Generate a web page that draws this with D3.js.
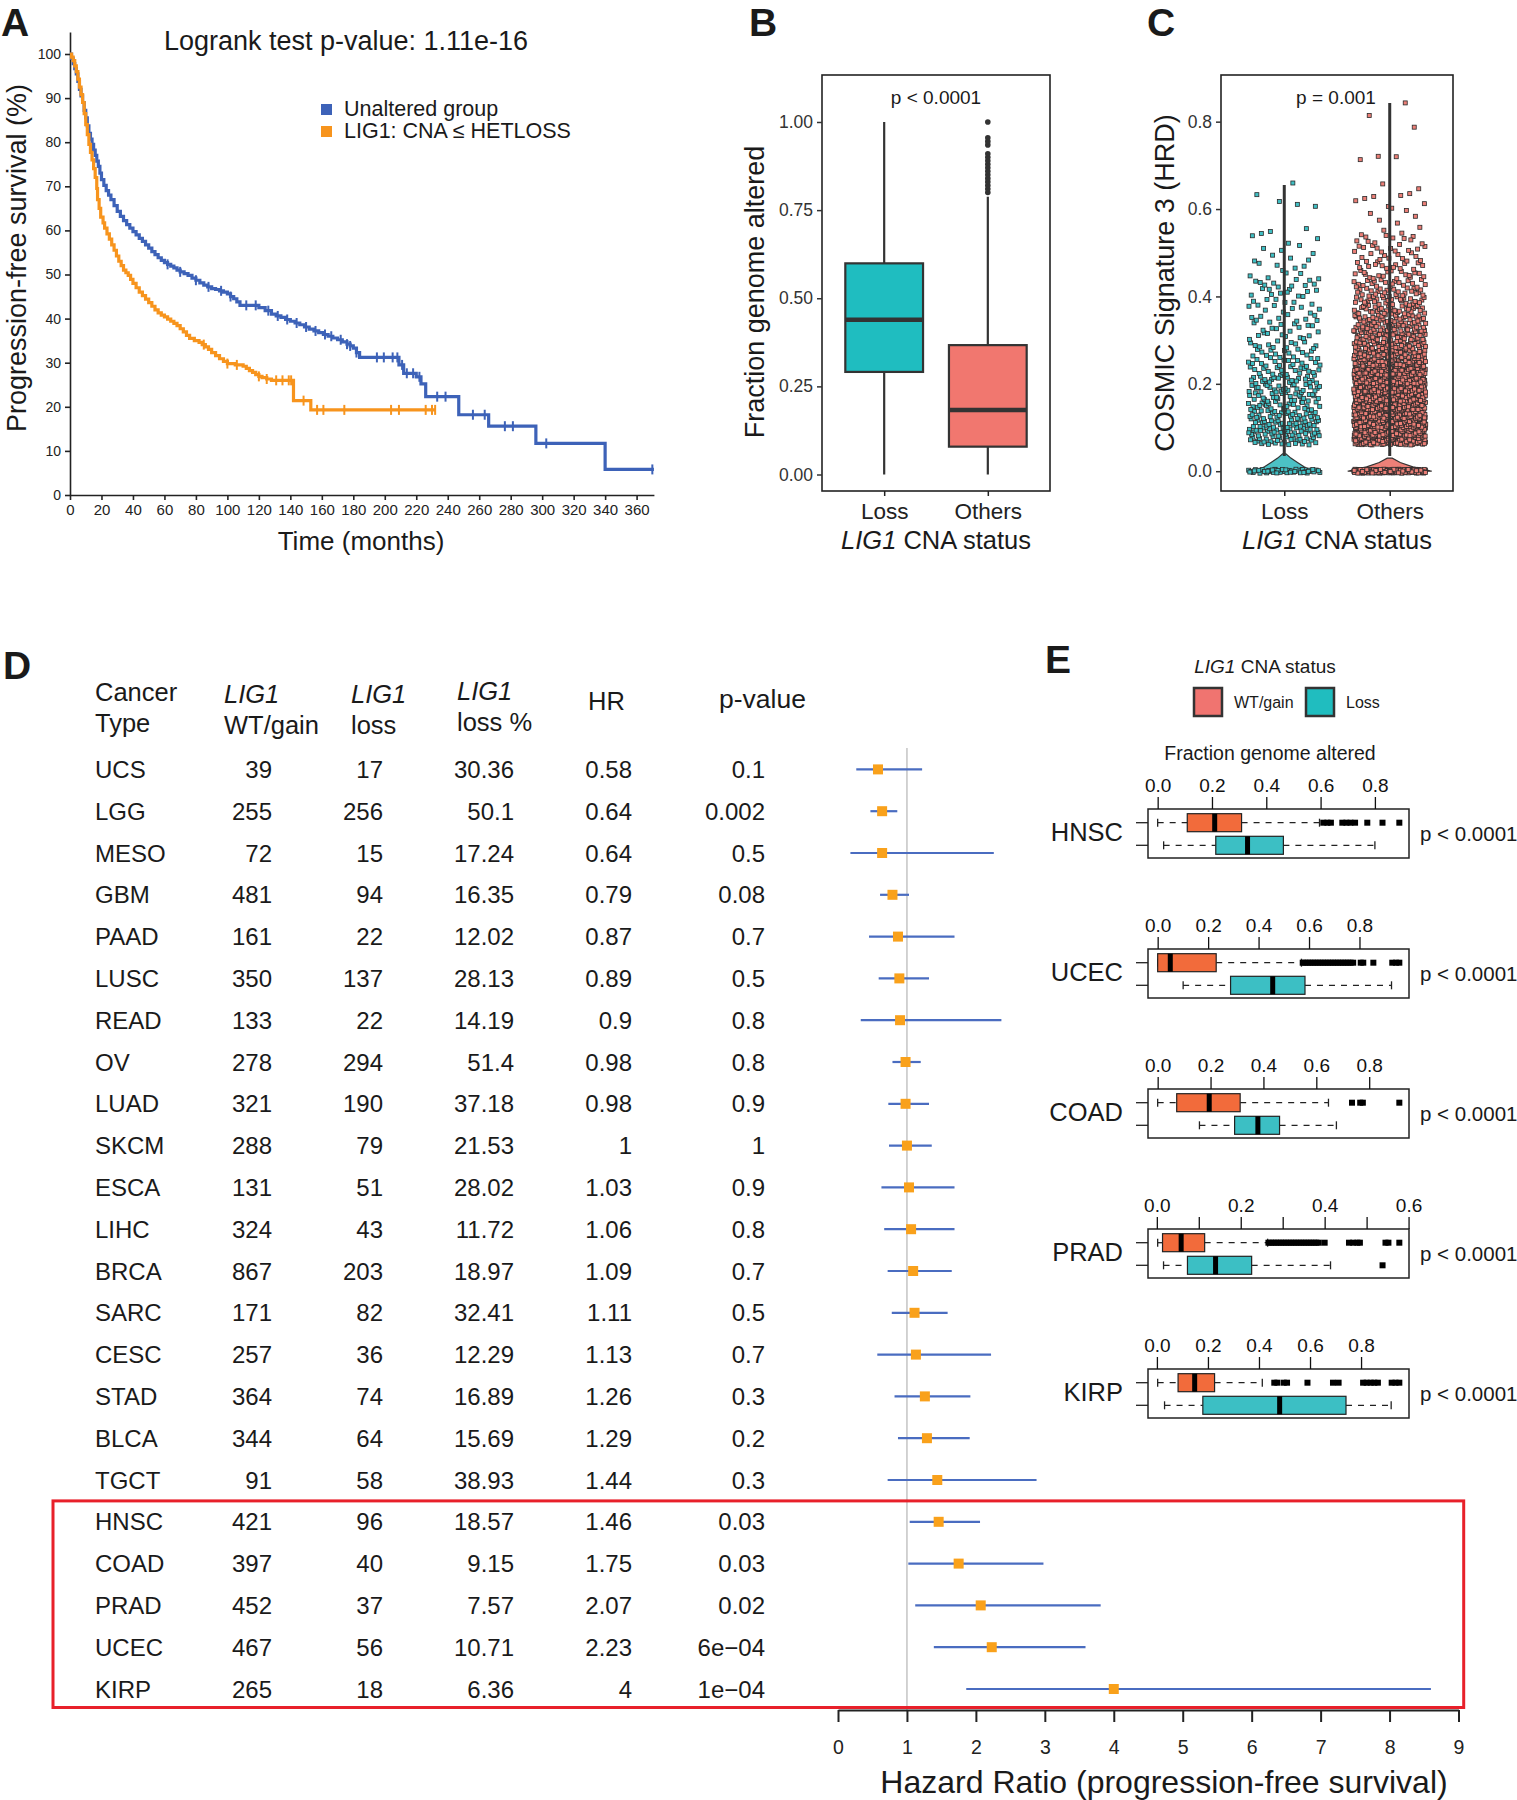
<!DOCTYPE html>
<html><head><meta charset="utf-8">
<script src="https://cdn.jsdelivr.net/npm/d3@7"></script>
<style>
body{margin:0;background:#fff}
svg{display:block}
text{font-family:"Liberation Sans",Arial,Helvetica,sans-serif}
</style>
</head><body>
<svg id="fig" width="1517" height="1800"></svg>
<script>
// ================= DATA =================
// Panel A: Kaplan-Meier progression-free survival (step points: months, %)
const kmUnalteredTime = [0,1,2,3,4,5,6,7,8,9,10,11,12,13,14,15,16,17,18,19,20,21.5,23,24.5,26,28,30,32,34,36,38,40,42,44,46,48,50,52,54,56,58,60,62,64,66,68,70,72.5,75,77.5,80,82.5,85,87.5,90,92.5,95,97.5,100,102,104,106,108,120,124,128,131,134,137,140,143,146,149,152,155,158,161,164,167,170,173,176,178,180,182,184,209,212,220,223,226,247,266,296,340,371];
const kmUnalteredSurv = [100,99,97.8,96.7,95.5,93.8,92,90.5,89,87.2,85.5,83.7,82,80.7,79.5,78.2,77,75.7,74.5,73,71.5,70.2,69,68,67,65.6,64.3,63.2,62.2,61.3,60.5,59.7,59,58.2,57.5,56.7,56,55.2,54.5,53.8,53.2,52.7,52.3,51.9,51.5,51,50.6,50.2,49.8,49.2,48.7,48.1,47.6,47.2,46.8,46.6,46.3,46,45.6,45,44.5,43.8,43,42.5,41.8,41,40.6,40.3,39.8,39.4,39,38.6,38.1,37.6,37.2,36.8,36.4,36,35.6,35.2,34.7,34.2,33.8,33.3,32.3,31.2,29.5,27.6,26.8,25.2,22.3,18.2,15.6,11.7,5.8,5.8];
const kmLossTime = [0,1,2,3,4,5,6,7,8,9,10,11,12,13,14,15,16,17,17.5,18.5,19.5,21,22,23.5,25,26.5,28,29.5,31,32.5,34,35.5,37,38.5,40,42,44,46,48,50,52,54,56,58,60,62,64,66,68,70,72,74,76,79,82,84,86,88,90,92.5,95,97.5,100,105,110,112,114,116,118,120,122,125,128,142,153,232];
const kmLossSurv = [100,99.3,98.5,97.3,96,94.3,92.5,90.8,89,86.5,84,81.7,79.5,77.7,76,74,72,69.5,67,65,63,61.7,60.5,59.2,58,56.7,55.5,54.2,53,52,51,50.4,49.8,48.9,48,47,46,45.2,44.4,43.6,42.8,42,41.3,40.8,40.4,39.9,39.4,38.9,38.4,37.7,37,36.2,35.5,35,34.6,34.1,33.6,33,32.3,31.6,30.9,30.3,29.8,29.5,29.2,28.7,28.2,27.8,27.3,26.9,26.6,26.3,26,21.4,19.3,19.3];
const kmUnalteredCensor = [62,70,80,88,96,102,112,118,126,132,138,144,150,156,162,166,172,176,178,182,195,199.4,205,208,211,214,218,222,233.3,238.6,256,263.5,276.3,281.4,302.6,370];
const kmLossCensor = [85,100,106,120,125,131,135,139,140.5,148.4,157,161,174.3,204,209,226,230,232];
const kmLegend = ["Unaltered group", "LIG1: CNA \u2264 HETLOSS"];
const kmXTicks = d3.range(0, 361, 20);
const kmYTicks = d3.range(0, 101, 10);

// Panel B: fraction genome altered boxplot [lowWhisker, q1, median, q3, highWhisker]
const bGroups = ["Loss", "Others"];
const bStats = [[0, 0.291, 0.439, 0.599, 1.0], [0, 0.079, 0.183, 0.367, 0.788]];
const bOthersOutliers = [0.80,0.81,0.82,0.83,0.84,0.85,0.86,0.87,0.88,0.89,0.90,0.91,0.935,0.945,0.955,1.0];
const bTicks = [0, 0.25, 0.5, 0.75, 1.0];

// Panel C: COSMIC signature 3, counts of samples per 0.02 bin starting at 0.06, plus zeros
const cGroups = ["Loss", "Others"];
const cLossBins = [30,35,30,28,25,25,25,22,18,18,14,12,10,10,10,8,8,10,10,6,4,5,3,3,3,0,0,3,1,1];
const cOthersBins = [120,130,130,120,110,105,100,95,90,80,70,60,50,42,36,32,28,25,20,18,14,12,12,10,4,2,3,4,4,2,0,0,2,1,0,0,1,1,0,1];
const cZeroCounts = [50, 150];
const cMax = [0.655, 0.843];
const cViolinLoss = [[0,0.85],[0.005,0.75],[0.01,0.6],[0.02,0.4],[0.03,0.2],[0.04,0.05]];
const cViolinOthers = [[0,1.0],[0.005,0.8],[0.01,0.55],[0.02,0.25],[0.03,0.06]];
const cTicks = [0, 0.2, 0.4, 0.6, 0.8];

// Panel D: table + forest plot
const dCancer = ["UCS","LGG","MESO","GBM","PAAD","LUSC","READ","OV","LUAD","SKCM","ESCA","LIHC","BRCA","SARC","CESC","STAD","BLCA","TGCT","HNSC","COAD","PRAD","UCEC","KIRP"];
const dWtGain = [39,255,72,481,161,350,133,278,321,288,131,324,867,171,257,364,344,91,421,397,452,467,265];
const dLoss = [17,256,15,94,22,137,22,294,190,79,51,43,203,82,36,74,64,58,96,40,37,56,18];
const dLossPct = ["30.36","50.1","17.24","16.35","12.02","28.13","14.19","51.4","37.18","21.53","28.02","11.72","18.97","32.41","12.29","16.89","15.69","38.93","18.57","9.15","7.57","10.71","6.36"];
const dHR = [0.58,0.64,0.64,0.79,0.87,0.89,0.9,0.98,0.98,1,1.03,1.06,1.09,1.11,1.13,1.26,1.29,1.44,1.46,1.75,2.07,2.23,4];
const dPval = ["0.1","0.002","0.5","0.08","0.7","0.5","0.8","0.8","0.9","1","0.9","0.8","0.7","0.5","0.7","0.3","0.2","0.3","0.03","0.03","0.02","6e\u221204","1e\u221204"];
const dCILow = [0.265,0.47,0.18,0.61,0.45,0.59,0.33,0.79,0.73,0.74,0.63,0.67,0.72,0.78,0.57,0.82,0.87,0.72,1.04,1.02,1.12,1.39,1.86];
const dCIHigh = [1.22,0.86,2.26,1.03,1.69,1.32,2.37,1.20,1.32,1.36,1.69,1.69,1.65,1.59,2.22,1.92,1.91,2.88,2.06,2.98,3.81,3.59,8.60];
const dHighlightFrom = "HNSC";
const dAxisTicks = d3.range(0, 10);

// Panel E: fraction genome altered per cancer [lowWhisker, q1, median, q3, highWhisker]
const eCancers = ["HNSC","UCEC","COAD","PRAD","KIRP"];
const eWTStats = [[0.0,0.109,0.21,0.309,0.596],[0.0,0.0,0.05,0.232,0.57],[0.0,0.072,0.195,0.312,0.646],[0.002,0.0136,0.058,0.114,0.264],[0.003,0.083,0.148,0.226,0.413]];
const eLossStats = [[0.022,0.214,0.331,0.463,0.80],[0.101,0.289,0.456,0.584,0.927],[0.158,0.291,0.379,0.461,0.676],[0.016,0.073,0.14,0.226,0.414],[0.03,0.18,0.481,0.741,0.918]];
const eWTOutliers = [
  [0.61,0.625,0.638,0.68,0.695,0.71,0.727,0.772,0.828,0.89],
  [0.575,0.585,0.595,0.605,0.615,0.625,0.635,0.645,0.655,0.665,0.675,0.685,0.695,0.705,0.715,0.725,0.735,0.745,0.755,0.765,0.775,0.805,0.815,0.855,0.93,0.945,0.958],
  [0.735,0.766,0.776,0.914],
  [0.266,0.272,0.278,0.284,0.29,0.296,0.302,0.308,0.314,0.32,0.326,0.332,0.338,0.344,0.35,0.356,0.362,0.368,0.374,0.38,0.386,0.4,0.458,0.468,0.478,0.484,0.545,0.552,0.578],
  [0.46,0.472,0.497,0.51,0.59,0.69,0.712,0.808,0.822,0.838,0.852,0.866,0.92,0.935,0.95]
];
const eLossOutliers = [[],[],[],[0.538],[]];
const ePvals = ["p < 0.0001","p < 0.0001","p < 0.0001","p < 0.0001","p < 0.0001"];
const eTickStep = [0.2,0.2,0.2,0.1,0.2];
const eLabelStep = [0.2,0.2,0.2,0.2,0.2];

// ================= DRAWING =================
const svg = d3.select("#fig");
const FONT = '"Liberation Sans", Arial, Helvetica, sans-serif';
const INK = "#1a1a1a";

function txt(g, s, x, y, size, o = {}) {
  const t = g.append("text").attr("x", x).attr("y", y).attr("font-size", size)
    .attr("fill", o.fill || INK).text(s);
  if (o.anchor) t.attr("text-anchor", o.anchor);
  if (o.weight) t.attr("font-weight", o.weight);
  if (o.italic) t.attr("font-style", "italic");
  if (o.rotate) t.attr("transform", `rotate(${o.rotate},${x},${y})`);
  return t;
}
function styleAxis(g, size, w, col) {
  g.attr("font-family", FONT).attr("font-size", size);
  g.selectAll("path,line").attr("stroke", col || "#222").attr("stroke-width", w);
  g.selectAll("text").attr("fill", col || "#222");
}
function halton(i, b) { let f = 1, r = 0; while (i > 0) { f /= b; r += f * (i % b); i = Math.floor(i / b); } return r; }

// Panel letters
txt(svg, "A", 1, 36, 39, {weight: "bold"});
txt(svg, "B", 749, 36, 39, {weight: "bold"});
txt(svg, "C", 1147, 36, 39, {weight: "bold"});
txt(svg, "D", 3, 679, 39, {weight: "bold"});
txt(svg, "E", 1045, 673, 39, {weight: "bold"});

// ---------- Panel A ----------
(function () {
  const g = svg.append("g");
  const k = (636.6 - 70) / 360;
  const x = d3.scaleLinear().domain([0, 371]).range([70, 70 + 371 * k]);
  const y = d3.scaleLinear().domain([0, 105]).range([495, 495 - 105 * 4.41]);
  const xa = g.append("g").attr("transform", "translate(0,495)")
    .call(d3.axisBottom(x).tickValues(kmXTicks).tickSize(5).tickSizeOuter(0).tickPadding(4));
  styleAxis(xa, 15, 1.6, "#222");
  const ya = g.append("g").attr("transform", "translate(70,0)")
    .call(d3.axisLeft(y).tickValues(kmYTicks).tickSize(5).tickSizeOuter(0).tickPadding(4));
  styleAxis(ya, 14, 1.6, "#222");

  const series = [
    {t: kmUnalteredTime, s: kmUnalteredSurv, c: kmUnalteredCensor, col: "#3D62B8"},
    {t: kmLossTime, s: kmLossSurv, c: kmLossCensor, col: "#F7941D"}
  ];
  const line = d3.line().x(d => x(d[0])).y(d => y(d[1])).curve(d3.curveStepAfter);
  series.forEach(se => {
    const pts = se.t.map((t, i) => [t, se.s[i]]);
    g.append("path").attr("d", line(pts)).attr("fill", "none")
      .attr("stroke", se.col).attr("stroke-width", 3.2);
    se.c.forEach(ct => {
      let v = se.s[0];
      se.t.forEach((t, i) => { if (t <= ct) v = se.s[i]; });
      g.append("line").attr("x1", x(ct)).attr("x2", x(ct))
        .attr("y1", y(v) - 5).attr("y2", y(v) + 5)
        .attr("stroke", se.col).attr("stroke-width", 2);
    });
  });
  txt(g, "Logrank test p-value: 1.11e-16", 346, 50, 27, {anchor: "middle"});
  const legCols = ["#3D62B8", "#F7941D"];
  kmLegend.forEach((l, i) => {
    g.append("rect").attr("x", 321).attr("y", 104 + i * 22).attr("width", 11).attr("height", 11).attr("fill", legCols[i]);
    txt(g, l, 344, 116 + i * 22, 21.5);
  });
  txt(g, "Time (months)", 361, 550, 26, {anchor: "middle"});
  txt(g, "Progression-free survival (%)", 26, 258, 27, {anchor: "middle", rotate: -90});
})();

// ---------- Panel B ----------
(function () {
  const g = svg.append("g");
  const fx0 = 822, fx1 = 1050, fy0 = 75, fy1 = 491;
  const y = d3.scaleLinear().domain([-0.0468, 1.1333]).range([fy1, fy0]);
  const x = d3.scalePoint().domain(bGroups).range([fx0, fx1]).padding(0.6);
  const bw = 0.75 * x.step();
  const cols = ["#1FBDC0", "#F1776F"];
  bGroups.forEach((gr, i) => {
    const [lo, q1, med, q3, hi] = bStats[i];
    const cx = x(gr);
    g.append("line").attr("x1", cx).attr("x2", cx).attr("y1", y(q3)).attr("y2", y(hi)).attr("stroke", "#333").attr("stroke-width", 2.2);
    g.append("line").attr("x1", cx).attr("x2", cx).attr("y1", y(q1)).attr("y2", y(lo)).attr("stroke", "#333").attr("stroke-width", 2.2);
    g.append("rect").attr("x", cx - bw / 2).attr("y", y(q3)).attr("width", bw).attr("height", y(q1) - y(q3))
      .attr("fill", cols[i]).attr("stroke", "#333").attr("stroke-width", 2.2);
    g.append("line").attr("x1", cx - bw / 2).attr("x2", cx + bw / 2).attr("y1", y(med)).attr("y2", y(med)).attr("stroke", "#333").attr("stroke-width", 4.5);
  });
  bOthersOutliers.forEach(v => {
    g.append("circle").attr("cx", x("Others")).attr("cy", y(v)).attr("r", 2.8).attr("fill", "#333");
  });
  g.append("rect").attr("x", fx0).attr("y", fy0).attr("width", fx1 - fx0).attr("height", fy1 - fy0)
    .attr("fill", "none").attr("stroke", "#222").attr("stroke-width", 1.6);
  const ya = g.append("g").attr("transform", `translate(${fx0},0)`)
    .call(d3.axisLeft(y).tickValues(bTicks).tickFormat(d3.format(".2f")).tickSize(5).tickPadding(4));
  ya.select(".domain").remove();
  styleAxis(ya, 17.5, 1.5, "#333");
  const xa = g.append("g").attr("transform", `translate(0,${fy1})`)
    .call(d3.axisBottom(x).tickSize(5).tickPadding(7));
  xa.select(".domain").remove();
  styleAxis(xa, 22.5, 1.5, "#222");
  txt(g, "p < 0.0001", (fx0 + fx1) / 2, 104, 19, {anchor: "middle"});
  txt(g, "Fraction genome altered", 764, 292, 27, {anchor: "middle", rotate: -90});
  const t = txt(g, "", 936, 549, 25.5, {anchor: "middle"});
  t.append("tspan").attr("font-style", "italic").text("LIG1");
  t.append("tspan").text(" CNA status");
})();

// ---------- Panel C ----------
(function () {
  const g = svg.append("g");
  const fx0 = 1221, fx1 = 1453, fy0 = 75, fy1 = 491;
  const y = d3.scaleLinear().domain([-0.0453, 0.9068]).range([fy1, fy0]);
  const x = d3.scalePoint().domain(cGroups).range([fx0, fx1]).padding(0.6);
  const cols = ["#3FBFC4", "#EC7F77"];
  const violinFill = ["#4CC1C5", "#EE8078"];
  const vHalf = [33, 42];
  const violins = [cViolinLoss, cViolinOthers];
  const jw = 36;
  cGroups.forEach((gr, gi) => {
    const cx = x(gr);
    const area = d3.area().y(d => y(d[0])).x0(d => cx - vHalf[gi] * d[1]).x1(d => cx + vHalf[gi] * d[1]);
    g.append("path").attr("d", area(violins[gi])).attr("fill", violinFill[gi]).attr("stroke", "#333").attr("stroke-width", 1.2);
    const bins = gi === 0 ? cLossBins : cOthersBins;
    let idx = 1 + gi * 7919;
    const pts = g.append("g");
    bins.forEach((n, b) => {
      for (let j = 0; j < n; j++) {
        const v = 0.06 + 0.02 * b + 0.02 * halton(idx, 3);
        const px = cx + (halton(idx, 2) * 2 - 1) * jw;
        idx++;
        pts.append("rect").attr("x", px - 2).attr("y", y(v) - 2).attr("width", 4).attr("height", 4)
          .attr("fill", cols[gi]).attr("stroke", "#2a2a2a").attr("stroke-width", 0.8);
      }
    });
    for (let j = 0; j < cZeroCounts[gi]; j++) {
      const px = cx + (halton(idx, 2) * 2 - 1) * jw;
      const dy = (halton(idx, 3) - 0.5) * 4;
      idx++;
      pts.append("rect").attr("x", px - 2).attr("y", y(0) - 2 + dy).attr("width", 4).attr("height", 4)
        .attr("fill", cols[gi]).attr("stroke", "#2a2a2a").attr("stroke-width", 0.8);
    }
    g.append("line").attr("x1", cx).attr("x2", cx).attr("y1", y(0.035)).attr("y2", y(cMax[gi]))
      .attr("stroke", "#333").attr("stroke-width", 3);
  });
  g.append("rect").attr("x", fx0).attr("y", fy0).attr("width", fx1 - fx0).attr("height", fy1 - fy0)
    .attr("fill", "none").attr("stroke", "#222").attr("stroke-width", 1.6);
  const ya = g.append("g").attr("transform", `translate(${fx0},0)`)
    .call(d3.axisLeft(y).tickValues(cTicks).tickFormat(d3.format(".1f")).tickSize(5).tickPadding(4));
  ya.select(".domain").remove();
  styleAxis(ya, 17.5, 1.5, "#333");
  const xa = g.append("g").attr("transform", `translate(0,${fy1})`)
    .call(d3.axisBottom(x).tickSize(5).tickPadding(7));
  xa.select(".domain").remove();
  styleAxis(xa, 22.5, 1.5, "#222");
  txt(g, "p = 0.001", 1336, 104, 19, {anchor: "middle"});
  txt(g, "COSMIC Signature 3 (HRD)", 1174, 283, 27, {anchor: "middle", rotate: -90});
  const t = txt(g, "", 1337, 549, 25.5, {anchor: "middle"});
  t.append("tspan").attr("font-style", "italic").text("LIG1");
  t.append("tspan").text(" CNA status");
})();

// ---------- Panel D ----------
(function () {
  const g = svg.append("g");
  const rowY = d3.scalePoint().domain(dCancer).range([769.4, 769.4 + 22 * 41.8]);
  const fs = 24;
  const hs = 25.5;
  // headers
  txt(g, "Cancer", 95, 701, hs); txt(g, "Type", 95, 732, hs);
  txt(g, "LIG1", 224, 703, hs, {italic: true}); txt(g, "WT/gain", 224, 734, hs);
  txt(g, "LIG1", 351, 703, hs, {italic: true}); txt(g, "loss", 351, 734, hs);
  txt(g, "LIG1", 457, 700, hs, {italic: true}); txt(g, "loss %", 457, 731, hs);
  txt(g, "HR", 588, 710, hs);
  txt(g, "p-value", 719, 708, hs + 1);
  dCancer.forEach((c, i) => {
    const yy = rowY(c) + 8.5;
    txt(g, c, 95, yy, fs);
    txt(g, dWtGain[i], 272, yy, fs, {anchor: "end"});
    txt(g, dLoss[i], 383, yy, fs, {anchor: "end"});
    txt(g, dLossPct[i], 514, yy, fs, {anchor: "end"});
    txt(g, dHR[i], 632, yy, fs, {anchor: "end"});
    txt(g, dPval[i], 765, yy, fs, {anchor: "end"});
  });
  // forest
  const fx = d3.scaleLinear().domain([0, 9]).range([838, 1458.5]);
  const axisY = 1710;
  g.append("line").attr("x1", fx(1)).attr("x2", fx(1)).attr("y1", 748).attr("y2", axisY)
    .attr("stroke", "#C8C8C8").attr("stroke-width", 1.6);
  dCancer.forEach((c, i) => {
    const yy = rowY(c);
    g.append("line").attr("x1", fx(dCILow[i])).attr("x2", fx(dCIHigh[i])).attr("y1", yy).attr("y2", yy)
      .attr("stroke", "#4A6CC0").attr("stroke-width", 2.2);
    g.append("rect").attr("x", fx(dHR[i]) - 5).attr("y", yy - 5).attr("width", 10).attr("height", 10)
      .attr("fill", "#F9A11B");
  });
  const hi = dCancer.indexOf(dHighlightFrom);
  const top = (rowY(dCancer[hi - 1]) + rowY(dCancer[hi])) / 2;
  g.append("rect").attr("x", 53).attr("y", top).attr("width", 1463.7 - 53).attr("height", 1707.5 - top)
    .attr("fill", "none").attr("stroke", "#E8202A").attr("stroke-width", 3);
  const xa = g.append("g").attr("transform", `translate(0,${axisY})`)
    .call(d3.axisBottom(fx).tickValues(dAxisTicks).tickSize(12).tickSizeOuter(0).tickPadding(18));
  styleAxis(xa, 19.5, 2, "#222");
  txt(g, "Hazard Ratio (progression-free survival)", 1164, 1793, 32, {anchor: "middle"});
})();

// ---------- Panel E ----------
(function () {
  const g = svg.append("g");
  // legend
  const lt = txt(g, "", 1265, 673, 19, {anchor: "middle"});
  lt.append("tspan").attr("font-style", "italic").text("LIG1");
  lt.append("tspan").text(" CNA status");
  g.append("rect").attr("x", 1194).attr("y", 688).attr("width", 28).attr("height", 28)
    .attr("fill", "#F07470").attr("stroke", "#333").attr("stroke-width", 2.5);
  txt(g, "WT/gain", 1234, 708, 16);
  g.append("rect").attr("x", 1306).attr("y", 688).attr("width", 28).attr("height", 28)
    .attr("fill", "#20BDBF").attr("stroke", "#333").attr("stroke-width", 2.5);
  txt(g, "Loss", 1346, 708, 16);
  txt(g, "Fraction genome altered", 1270, 760, 19.5, {anchor: "middle"});

  const fx0 = 1148, fx1 = 1409, fh = 49;
  const cols = ["#F26B3B", "#3CBFC4"];
  eCancers.forEach((c, i) => {
    const top = 809 + i * 140;
    const all = [...eWTStats[i], ...eLossStats[i], ...eWTOutliers[i], ...eLossOutliers[i]];
    const ext = d3.extent(all);
    const pad = (ext[1] - ext[0]) * 0.04;
    const x = d3.scaleLinear().domain([ext[0] - pad, ext[1] + pad]).range([fx0, fx1]);
    const groupsY = [top + 13.7, top + 36.3];
    const statsList = [eWTStats[i], eLossStats[i]];
    const outList = [eWTOutliers[i], eLossOutliers[i]];
    statsList.forEach((st, gi) => {
      const [lo, q1, med, q3, hiW] = st;
      const cy = groupsY[gi];
      [[lo, q1], [q3, hiW]].forEach(([a, b]) => {
        g.append("line").attr("x1", x(a)).attr("x2", x(b)).attr("y1", cy).attr("y2", cy)
          .attr("stroke", "#222").attr("stroke-width", 1.3).attr("stroke-dasharray", "6,6");
      });
      [lo, hiW].forEach(v => {
        g.append("line").attr("x1", x(v)).attr("x2", x(v)).attr("y1", cy - 4).attr("y2", cy + 4)
          .attr("stroke", "#222").attr("stroke-width", 1.3);
      });
      g.append("rect").attr("x", x(q1)).attr("y", cy - 9).attr("width", x(q3) - x(q1)).attr("height", 18)
        .attr("fill", cols[gi]).attr("stroke", "#222").attr("stroke-width", 1.2);
      g.append("rect").attr("x", x(med) - 2.5).attr("y", cy - 9).attr("width", 5).attr("height", 18).attr("fill", "#000");
      outList[gi].forEach(v => {
        g.append("rect").attr("x", x(v) - 3).attr("y", cy - 3).attr("width", 6).attr("height", 6).attr("fill", "#000");
      });
    });
    g.append("rect").attr("x", fx0).attr("y", top).attr("width", fx1 - fx0).attr("height", fh)
      .attr("fill", "none").attr("stroke", "#222").attr("stroke-width", 1.5);
    // top axis
    const tickVals = d3.range(0, x.domain()[1] + 1e-9, eTickStep[i]).map(v => +v.toFixed(2));
    const xa = g.append("g").attr("transform", `translate(0,${top})`)
      .call(d3.axisTop(x).tickValues(tickVals).tickSize(12).tickSizeOuter(0).tickPadding(5)
        .tickFormat(v => (Math.abs(v / eLabelStep[i] - Math.round(v / eLabelStep[i])) < 1e-6) ? d3.format(".1f")(v) : ""));
    xa.select(".domain").remove();
    styleAxis(xa, 19, 1.3, "#111");
    // left group ticks
    groupsY.forEach(gy => {
      g.append("line").attr("x1", fx0 - 12).attr("x2", fx0).attr("y1", gy).attr("y2", gy)
        .attr("stroke", "#222").attr("stroke-width", 1.3);
    });
    txt(g, c, 1123, top + 32, 25.5, {anchor: "end"});
    txt(g, ePvals[i], 1420, top + 32, 20.5);
  });
})();
</script>
</body></html>
